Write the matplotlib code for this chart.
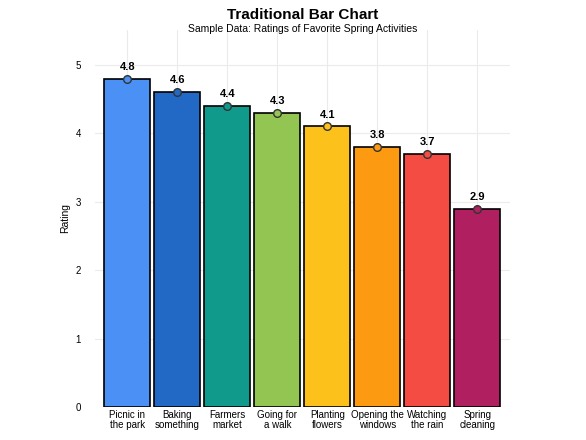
import numpy as np
from matplotlib import pyplot as plt

plt.rcParams['font.family'] = ['Liberation Sans', 'DejaVu Sans']

activities = ['Picnic in\nthe park', 'Baking\nsomething', 'Farmers\nmarket', 'Going for\na walk',
              'Planting\nflowers', 'Opening the\nwindows', 'Watching\nthe rain', 'Spring\ncleaning']
ratings = [4.8, 4.6, 4.4, 4.3, 4.1, 3.8, 3.7, 2.9]
colors = ['#4a90f5', '#2169c4', '#0f9a8b', '#93c552', '#fcc21b', '#fc9a12', '#f44c42', '#b02060']

fig = plt.figure(figsize=(5.86, 4.4), dpi=100)
ax = fig.add_axes([0.162, 0.075, 0.708, 0.857])

x = np.arange(len(activities))
ax.bar(x, ratings, width=0.92, color=colors, edgecolor='black', linewidth=1.2, zorder=2)
for xi, r, c in zip(x, ratings, colors):
    ax.plot(xi, r, 'o', color=c, markeredgecolor='#333333', markersize=5.5, zorder=3)
    ax.text(xi, r + 0.1, f'{r}', ha='center', va='bottom', fontsize=8, fontweight='bold')

ax.set_xlim(-0.65, 7.65)
ax.set_ylim(0, 5.51)
ax.set_xticks(x)
ax.set_xticklabels(activities, fontsize=7, linespacing=1.0)
ax.set_yticks([0, 1, 2, 3, 4, 5])
ax.tick_params(axis='y', labelsize=7, length=0, pad=10)
ax.tick_params(axis='x', length=0, pad=2)
ax.set_ylabel('Rating', fontsize=7.5)
ax.grid(True, color='#ebebeb', linewidth=0.8, zorder=0)
for s in ax.spines.values():
    s.set_visible(False)

fig.text(0.516, 0.965, 'Traditional Bar Chart', ha='center', va='center', fontsize=11, fontweight='bold')
fig.text(0.516, 0.935, 'Sample Data: Ratings of Favorite Spring Activities', ha='center', va='center', fontsize=7.5)

fig.savefig('out.png', dpi=100)
